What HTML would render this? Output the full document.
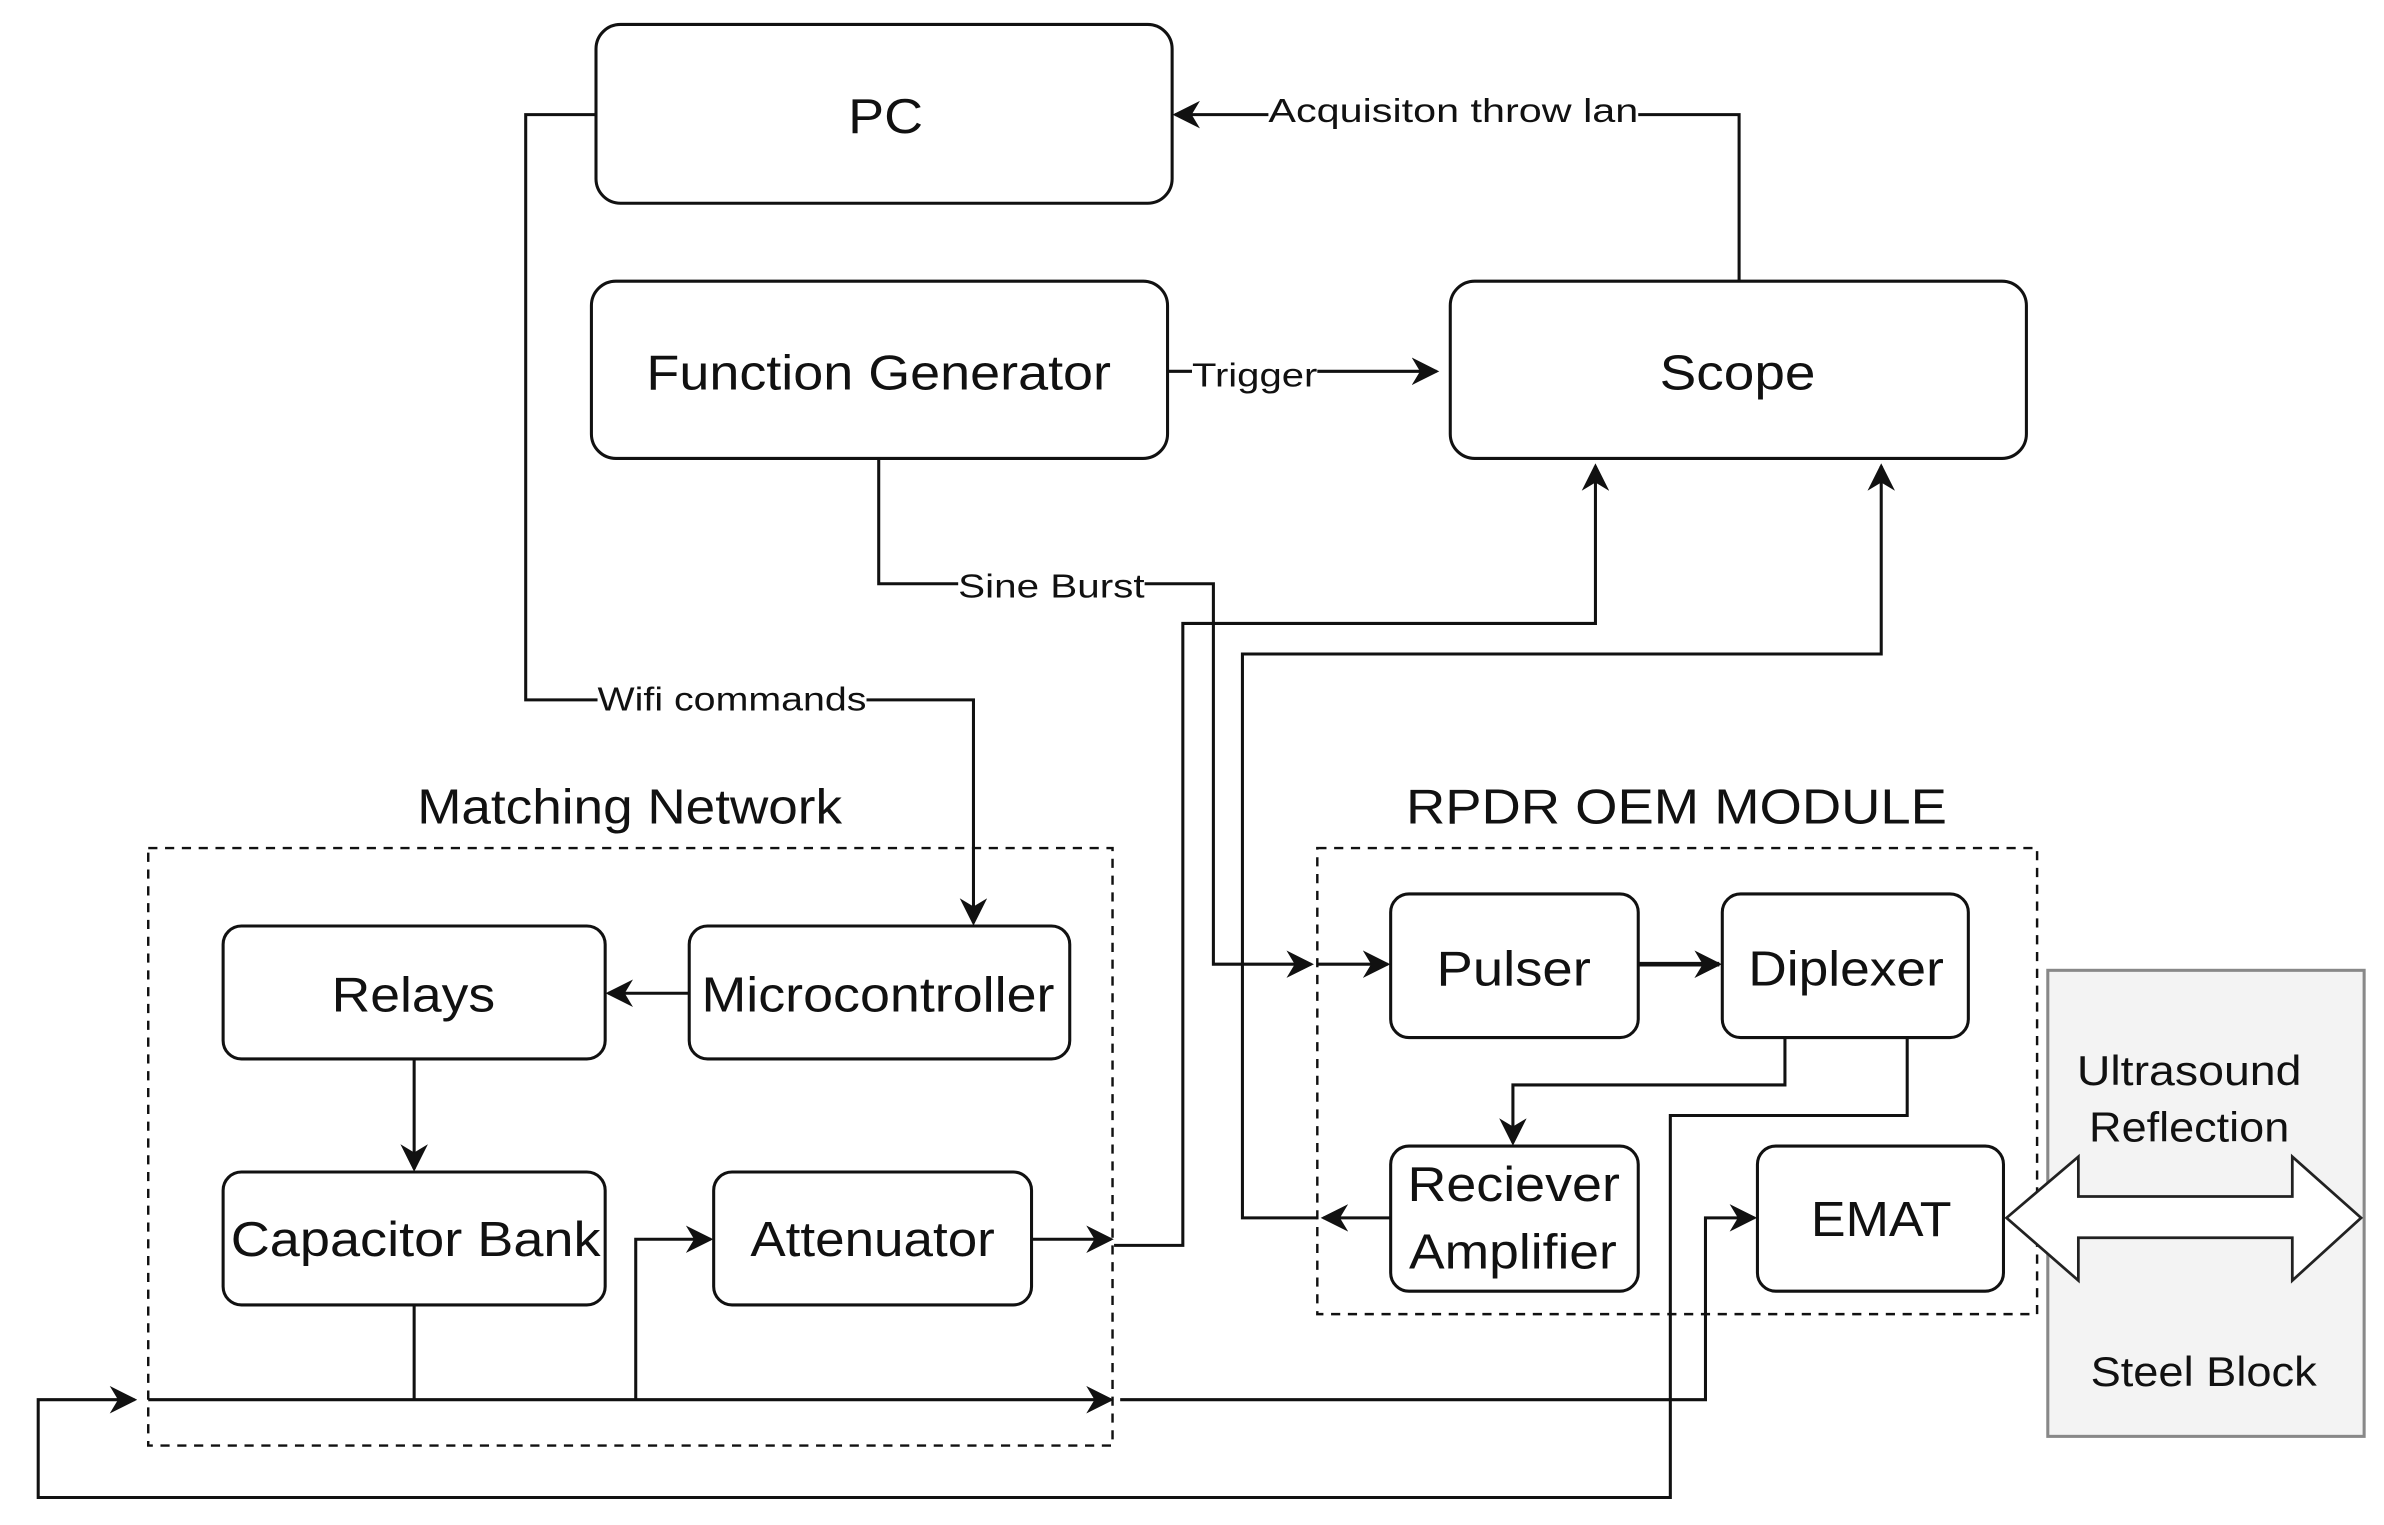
<!DOCTYPE html>
<html><head><meta charset="utf-8"><style>
html,body{margin:0;padding:0;background:#fff}
svg{display:block}
text{font-family:"Liberation Sans",Arial,sans-serif;fill:#111}
</style></head><body>
<svg width="2384" height="1525" viewBox="0 0 1560 998" preserveAspectRatio="none" xmlns="http://www.w3.org/2000/svg">
<defs>
<marker id="b" viewBox="0 0 10 10" refX="9" refY="5" markerWidth="18" markerHeight="18" markerUnits="userSpaceOnUse" orient="auto">
<path d="M0,0 L10,5 L0,10 L3,5 Z" fill="#111"/></marker>
</defs>
<g fill="none" stroke="#111" stroke-width="2">
<rect x="390" y="16" width="377" height="117" rx="16"/>
<rect x="387" y="184" width="377" height="116" rx="16"/>
<rect x="949" y="184" width="377" height="116" rx="16"/>
<rect x="146" y="606" width="250" height="87" rx="12"/>
<rect x="451" y="606" width="249" height="87" rx="12"/>
<rect x="146" y="767" width="250" height="87" rx="12"/>
<rect x="467" y="767" width="208" height="87" rx="12"/>
<rect x="910" y="585" width="162" height="94" rx="12"/>
<rect x="1127" y="585" width="161" height="94" rx="12"/>
<rect x="910" y="750" width="162" height="95" rx="12"/>
<rect x="1150" y="750" width="161" height="95" rx="12"/>
<rect x="97" y="555" width="631" height="391" stroke-dasharray="6,5" stroke-width="1.6"/>
<rect x="862" y="555" width="471" height="305" stroke-dasharray="6,5" stroke-width="1.6"/>
</g>
<rect x="1340" y="635" width="207" height="305" fill="#f3f3f3" stroke="#888" stroke-width="2"/>
<polygon points="1313,797 1360,757 1360,783 1500,783 1500,757 1545,797 1500,838 1500,810 1360,810 1360,838" fill="#fff" stroke="#222" stroke-width="1.8"/>
<g fill="none" stroke="#111" stroke-width="2">
<polyline points="390,75 344,75 344,458 637,458 637,604" marker-end="url(#b)"/>
<polyline points="1138,184 1138,75 769,75" marker-end="url(#b)"/>
<polyline points="764,243 940,243" marker-end="url(#b)"/>
<polyline points="575,300 575,382 794,382 794,631 858,631" marker-end="url(#b)"/>
<polyline points="862,631 908,631" marker-end="url(#b)"/>
<polyline points="675,811 727,811" marker-end="url(#b)"/>
<polyline points="729,815 774,815 774,408 1044,408 1044,305" marker-end="url(#b)"/>
<polyline points="910,797 866,797" marker-end="url(#b)"/>
<polyline points="862,797 813,797 813,428 1231,428 1231,305" marker-end="url(#b)"/>
<polyline points="451,650 398,650" marker-end="url(#b)"/>
<polyline points="271,693 271,765" marker-end="url(#b)"/>
<polyline points="271,854 271,916"/>
<polyline points="97,916 727,916" marker-end="url(#b)"/>
<polyline points="1248,679 1248,730 1093,730 1093,980 25,980 25,916 88,916" marker-end="url(#b)"/>
<polyline points="416,916 416,811 465,811" marker-end="url(#b)"/>
<polyline points="733,916 1116,916 1116,797 1148,797" marker-end="url(#b)"/>
<polyline points="1072,631 1125,631" stroke-width="3" marker-end="url(#b)"/>
<polyline points="1168,679 1168,710 990,710 990,748" marker-end="url(#b)"/>
</g>
<g font-size="22" lengthAdjust="spacingAndGlyphs">
<rect x="391" y="446" width="176" height="24" fill="#fff"/>
<text x="391" y="465" textLength="176" lengthAdjust="spacingAndGlyphs">Wifi commands</text>
<rect x="830" y="60" width="242" height="26" fill="#fff"/>
<text x="830" y="80" textLength="242" lengthAdjust="spacingAndGlyphs">Acquisiton throw lan</text>
<rect x="780" y="232" width="82" height="26" fill="#fff"/>
<text x="780" y="253" textLength="82" lengthAdjust="spacingAndGlyphs">Trigger</text>
<rect x="627" y="370" width="122" height="26" fill="#fff"/>
<text x="627" y="391" textLength="122" lengthAdjust="spacingAndGlyphs">Sine Burst</text>
</g>
<g font-size="32">
<text x="555" y="87" textLength="49" lengthAdjust="spacingAndGlyphs">PC</text>
<text x="423" y="255" textLength="304" lengthAdjust="spacingAndGlyphs">Function Generator</text>
<text x="1086" y="255" textLength="102" lengthAdjust="spacingAndGlyphs">Scope</text>
<text x="217" y="662" textLength="107" lengthAdjust="spacingAndGlyphs">Relays</text>
<text x="459" y="662" textLength="231" lengthAdjust="spacingAndGlyphs">Microcontroller</text>
<text x="151" y="822" textLength="242" lengthAdjust="spacingAndGlyphs">Capacitor Bank</text>
<text x="491" y="822" textLength="160" lengthAdjust="spacingAndGlyphs">Attenuator</text>
<text x="940" y="645" textLength="101" lengthAdjust="spacingAndGlyphs">Pulser</text>
<text x="1144" y="645" textLength="128" lengthAdjust="spacingAndGlyphs">Diplexer</text>
<text x="921" y="786" textLength="139" lengthAdjust="spacingAndGlyphs">Reciever</text>
<text x="922" y="830" textLength="136" lengthAdjust="spacingAndGlyphs">Amplifier</text>
<text x="1185" y="809" textLength="92" lengthAdjust="spacingAndGlyphs">EMAT</text>
<text x="273" y="539" textLength="278" lengthAdjust="spacingAndGlyphs">Matching Network</text>
<text x="920" y="539" textLength="354" lengthAdjust="spacingAndGlyphs">RPDR OEM MODULE</text>
</g>
<g font-size="27">
<text x="1359" y="710" textLength="147" lengthAdjust="spacingAndGlyphs">Ultrasound</text>
<text x="1367" y="747" textLength="131" lengthAdjust="spacingAndGlyphs">Reflection</text>
<text x="1368" y="907" textLength="148" lengthAdjust="spacingAndGlyphs">Steel Block</text>
</g>
</svg>
</body></html>
